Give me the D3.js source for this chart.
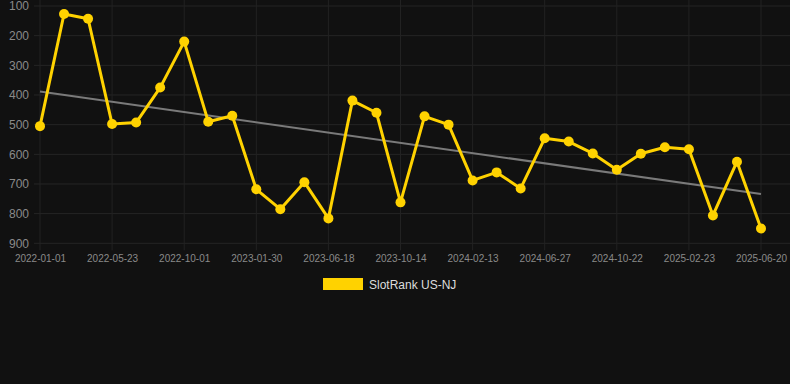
<!DOCTYPE html>
<html><head><meta charset="utf-8">
<script src="https://cdn.jsdelivr.net/npm/d3@7"></script>
<style>
html,body{margin:0;padding:0;background:#111111;}
svg{display:block;font-family:"Liberation Sans",Arial,sans-serif;}
</style></head>
<body>
<svg id="c" width="790" height="384"></svg>
<script>
const tickLabels = ["2022-01-01","2022-05-23","2022-10-01","2023-01-30","2023-06-18","2023-10-14","2024-02-13","2024-06-27","2024-10-22","2025-02-23","2025-06-20"];
const tickEvery = 3;
const seriesName = "SlotRank US-NJ";
const rankValues = [505,127,143,498,493,375,220,490,470,718,785,694,816,419,460,762,472,500,688,661,715,546,557,597,652,598,576,583,806,625,850];
const yTicks = [100,200,300,400,500,600,700,800,900];

(function(){
const W = 790, H = 384;
const svg = d3.select("#c");
const pLeft = 40, pRight = 761, pTop = 6, pBottom = 243.3;

const x = d3.scaleLinear().domain([0, rankValues.length - 1]).range([pLeft, pRight]);
const y = d3.scaleLinear().domain([100, 900]).range([pTop, pBottom]);

// grid
const g = svg.append("g");
g.selectAll("line.h").data(yTicks).enter().append("line")
  .attr("x1", 34).attr("x2", W).attr("y1", d => y(d)).attr("y2", d => y(d))
  .attr("stroke", "#252525").attr("stroke-width", 1);
const xTickIdx = tickLabels.map((_, i) => i * tickEvery);
g.selectAll("line.v").data(xTickIdx).enter().append("line")
  .attr("x1", d => x(d)).attr("x2", d => x(d)).attr("y1", 0).attr("y2", pBottom + 7)
  .attr("stroke", "#222").attr("stroke-width", 1);

// y axis labels
const yAxis = d3.axisLeft(y).tickValues(yTicks).tickSize(0).tickPadding(0);
const ya = svg.append("g").attr("transform", "translate(29,0)").call(yAxis);
ya.select(".domain").remove();
ya.selectAll("text").attr("fill", "#8a8a8a").attr("font-size", 12).attr("font-family", "Liberation Sans, Arial, sans-serif");

// x axis labels
const xAxis = d3.axisBottom(x).tickValues(xTickIdx).tickFormat((d, i) => tickLabels[i]).tickSize(0).tickPadding(0);
const xa = svg.append("g").attr("transform", `translate(0,${pBottom + 12})`).call(xAxis);
xa.select(".domain").remove();
xa.selectAll("text").attr("fill", "#8a8a8a").attr("font-size", 10).attr("font-family", "Liberation Sans, Arial, sans-serif");

// regression trend
const n = rankValues.length;
const mx = d3.mean(rankValues, (d, i) => i);
const my = d3.mean(rankValues);
let num = 0, den = 0;
rankValues.forEach((v, i) => { num += (i - mx) * (v - my); den += (i - mx) * (i - mx); });
const slope = num / den, icpt = my - slope * mx;
svg.append("line")
  .attr("x1", x(0)).attr("y1", y(icpt))
  .attr("x2", x(n - 1)).attr("y2", y(icpt + slope * (n - 1)))
  .attr("stroke", "#7a7a7a").attr("stroke-width", 2);

// series line
const yellow = "#ffd200";
svg.append("path").datum(rankValues)
  .attr("d", d3.line().x((d, i) => x(i)).y(d => y(d)))
  .attr("fill", "none").attr("stroke", yellow).attr("stroke-width", 3).attr("stroke-linejoin", "round");
svg.selectAll("circle.pt").data(rankValues).enter().append("circle")
  .attr("cx", (d, i) => x(i)).attr("cy", d => y(d)).attr("r", 5).attr("fill", yellow);

// legend
const lg = svg.append("g");
lg.append("rect").attr("x", 323).attr("y", 278).attr("width", 40).attr("height", 12).attr("fill", yellow);
lg.append("text").attr("x", 369).attr("y", 288.5).attr("fill", "#dddddd").attr("font-size", 12).text(seriesName);
})();
</script>
</body></html>
